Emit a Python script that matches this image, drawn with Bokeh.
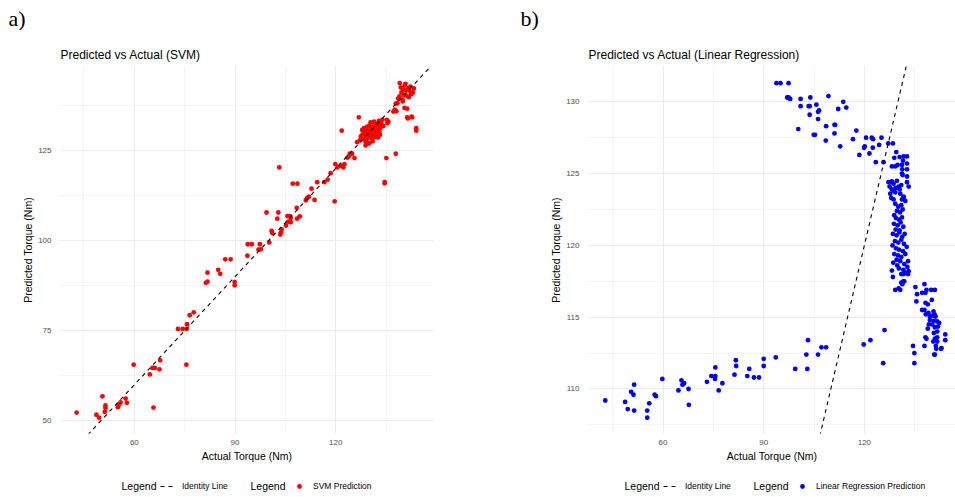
from bokeh.plotting import figure
from bokeh.layouts import row, column
from bokeh.models import FixedTicker, Legend, LegendItem, Label, Range1d
from bokeh.embed import file_html
from bokeh.resources import INLINE

# ---------------- data ----------------
# SVM panel: actual torque vs SVM predicted torque
svm_actual_low = [42.8, 48.7, 49.5, 50.5, 51.2, 51.4, 51.4, 55.1, 55.4, 55.9,
                  57.4, 57.8, 59.8, 64.6, 65.4, 66.1, 65.7, 67.5, 67.7, 73.0,
                  74.4, 75.6, 75.7, 75.5, 76.5, 77.7]
svm_pred_low = [52.3, 51.7, 50.9, 56.8, 52.5, 54.3, 53.6, 53.8, 54.5, 55.1,
                56.2, 55.0, 65.6, 62.9, 64.7, 64.7, 53.7, 64.3, 66.8, 75.5,
                75.5, 75.5, 76.8, 65.6, 79.3, 80.1]

svm_actual_mid = [81.3, 81.8, 81.8, 85.0, 85.6, 87.1, 88.7, 89.9, 89.9, 93.7,
                  93.8, 95.0, 97.0, 97.4, 97.7, 100.2, 100.9, 101.1, 103.5, 103.7,
                  103.9, 99.4, 102.6, 102.9, 105.2, 105.6, 106.4, 105.9, 106.6, 106.6,
                  108.4, 108.5, 109.3, 107.2, 108.6, 103.2, 111.1, 111.5, 112.0, 112.8,
                  113.7, 114.5, 116.6, 117.6, 118.5, 119.7, 119.9, 120.5, 121.5, 122.3,
                  122.6, 123.5, 124.2, 123.9, 124.9, 125.6]
svm_pred_mid = [88.3, 88.6, 91.1, 91.9, 90.8, 94.8, 94.8, 88.5, 87.6, 95.8,
                99.0, 99.0, 97.5, 99.0, 97.6, 99.5, 102.7, 102.1, 101.7, 102.3,
                103.1, 107.8, 106.1, 107.8, 104.2, 106.8, 106.8, 105.3, 105.1, 106.3,
                109.1, 106.1, 106.7, 115.8, 115.8, 120.3, 111.2, 111.8, 112.2, 114.4,
                111.3, 116.2, 116.2, 116.9, 118.7, 110.9, 121.2, 120.3, 120.8, 120.3,
                121.2, 123.0, 124.1, 123.4, 124.1, 122.9]

svm_actual_misc = [121.8, 126.9, 135.1, 137.9, 134.6, 134.6, 144.0, 144.0, 135.2, 135.4, 135.7]
svm_pred_misc = [130.5, 134.2, 122.9, 124.1, 116.2, 115.9, 131.2, 130.5, 133.5, 132.6, 133.0]

svm_actual_core = [127.5, 127.9, 128.0, 128.3, 128.4, 128.6, 128.9, 129.0, 129.1, 129.2,
                   129.4, 129.5, 129.7, 129.8, 130.0, 130.1, 130.2, 130.4, 130.5, 130.6,
                   130.8, 130.9, 131.0, 131.1, 131.3, 131.4, 131.5, 131.6, 131.8, 131.9,
                   132.0, 132.2, 132.3, 132.5, 132.6, 132.8, 132.9, 133.0, 133.2, 133.4,
                   133.6, 133.9, 134.2, 126.4, 127.2, 130.0, 128.9]
svm_pred_core = [128.9, 130.7, 129.5, 128.2, 131.2, 130.0, 126.4, 127.5, 129.0, 130.8,
                 131.6, 128.3, 129.7, 127.0, 130.4, 131.9, 128.9, 132.8, 129.8, 131.0,
                 128.4, 130.2, 127.6, 131.5, 129.3, 133.0, 130.6, 132.1, 128.8, 130.0,
                 131.2, 129.6, 132.5, 130.8, 128.6, 131.8, 133.2, 130.3, 129.4, 131.3,
                 132.4, 133.5, 131.8, 127.3, 127.8, 127.0, 127.5]

svm_actual_top = [137.2, 137.6, 137.9, 138.1, 138.4, 139.1, 139.4, 139.6, 139.9, 140.1,
                  140.3, 140.5, 140.6, 140.8, 140.9, 141.1, 141.3, 141.3, 141.5, 141.6,
                  141.8, 142.0, 142.3, 142.5, 142.8, 143.0, 143.3, 142.6, 139.0, 138.6,
                  140.0]
svm_pred_top = [135.8, 136.3, 138.0, 135.9, 138.1, 143.7, 142.5, 141.1, 139.1, 142.0,
                140.4, 136.8, 143.2, 143.5, 141.7, 140.2, 136.6, 134.2, 133.9, 142.3,
                139.8, 141.6, 142.7, 140.6, 134.2, 141.1, 142.2, 134.4, 140.0, 139.4,
                138.6]

# Linear regression panel
lr_actual_low = [42.8, 48.7, 49.5, 50.5, 51.2, 51.4, 51.4, 55.3, 55.3, 55.9,
                 57.5, 57.9, 59.8, 64.6, 65.5, 65.8, 66.3, 67.6, 67.7, 73.1,
                 74.4, 75.6, 75.6, 75.5, 76.6, 77.7, 81.3, 81.7, 81.8, 85.1,
                 85.7, 87.1, 88.6, 90.0, 90.0, 93.6, 99.4, 102.7, 103.0, 103.2,
                 106.2, 107.2, 108.6, 119.8, 121.8, 126.0, 125.6]
lr_pred_low = [109.2, 109.1, 108.6, 109.8, 109.6, 110.3, 108.5, 108.5, 108.0, 109.0,
               109.6, 109.5, 110.7, 109.9, 110.6, 110.3, 110.4, 110.0, 108.9, 110.5,
               110.9, 111.5, 110.9, 110.7, 109.9, 110.4, 111.0, 112.0, 111.6, 110.9,
               111.4, 110.8, 110.8, 112.1, 111.6, 112.2, 111.4, 112.4, 111.4, 113.4,
               112.4, 112.9, 112.9, 113.1, 113.4, 114.1, 111.8]

lr_actual_top = [93.8, 95.0, 97.4, 97.0, 97.4, 97.9, 101.0, 103.9, 109.3, 101.0,
                 103.4, 103.7, 105.7, 106.5, 106.2, 103.7, 106.2, 113.7, 112.2, 114.6,
                 100.3, 104.9, 105.3, 108.6, 111.1, 111.3, 111.1, 108.5, 112.8, 117.6,
                 116.6, 120.5, 122.2, 122.6, 125.1, 119.9, 120.1, 118.5, 121.5, 122.5,
                 124.4, 123.4, 125.7, 127.1, 128.5]
lr_pred_top = [131.3, 131.3, 131.3, 130.3, 130.3, 130.2, 130.2, 130.3, 130.4, 129.7,
               129.7, 129.7, 129.8, 129.4, 129.3, 129.1, 128.8, 130.0, 129.5, 129.6,
               128.1, 127.7, 127.7, 128.3, 128.4, 128.4, 127.8, 127.3, 126.9, 128.0,
               127.4, 127.5, 127.5, 127.4, 127.5, 126.8, 126.9, 126.3, 126.4, 126.8,
               127.0, 125.8, 125.8, 127.1, 127.1]

lr_actual_col = [129.5, 128.9, 130.5, 131.7, 132.7,
                 131.5, 132.7, 128.2, 129.2, 129.9, 131.2, 132.7, 131.3, 131.2, 131.4, 132.7,
                 127.2, 127.7, 128.2, 128.7, 129.7, 130.2, 127.5, 128.2, 128.7, 127.7, 129.2, 130.7,
                 131.7, 131.2, 128.7, 132.2, 131.7, 132.7, 133.2, 130.5, 129.3, 131.0, 128.0,
                 129.2, 130.1, 131.0, 129.7, 130.6, 131.4, 128.9,
                 129.4, 130.3, 131.2, 128.8, 129.9, 130.8, 131.6, 129.3, 130.5,
                 128.5, 129.6, 130.4, 131.3, 132.0, 129.1, 130.1, 131.0, 131.8, 128.4,
                 129.4, 130.3, 131.5, 132.6, 128.9, 130.0, 131.0, 132.2, 129.6, 130.7,
                 128.6, 129.8, 131.9, 133.0, 130.3, 131.6, 132.8, 128.2, 131.0, 131.7, 132.4, 133.2, 133.0,
                 128.5, 131.0, 131.9, 131.3, 131.6, 129.2, 130.2, 130.7]
lr_pred_col = [126.5, 126.1, 126.15, 126.2, 126.2,
               125.9, 125.7, 125.5, 125.5, 125.6, 125.6, 125.3, 125.3, 125.0, 124.9, 124.8,
               124.4, 124.4, 124.45, 124.3, 124.5, 124.1, 124.1, 123.9, 123.8, 123.6, 123.7, 123.6,
               123.4, 123.2, 123.2, 123.1, 123.3, 124.4, 124.1, 123.9, 124.0, 124.2, 123.3,
               122.9, 122.7, 122.8, 122.4, 122.3, 122.5, 122.1,
               121.9, 121.8, 121.95, 121.5, 121.4, 121.6, 121.3, 121.1, 121.05,
               120.8, 120.7, 120.9, 120.6, 120.8, 120.3, 120.2, 120.4, 120.1, 120.0,
               119.8, 119.7, 119.6, 119.9, 119.4, 119.3, 119.2, 119.4, 119.0, 118.9,
               118.8, 118.6, 118.7, 118.9, 118.4, 118.3, 118.5, 118.25, 118.0, 118.0, 118.1, 118.2, 118.0,
               117.8, 117.4, 117.5, 117.3, 117.5, 116.9, 117.0, 116.9]

lr_actual_right = [135.2, 137.9, 135.7, 138.2, 138.5, 139.9, 141.0, 137.2, 135.5, 138.2,
                   138.9, 140.1, 137.2, 137.9, 138.3, 139.1, 140.6, 140.9, 139.5, 140.2,
                   141.2, 139.5, 140.7, 141.7, 142.3, 139.2, 140.2, 138.9, 141.0, 141.9,
                   140.7, 141.7, 144.1, 144.1, 138.5, 141.0, 141.7, 140.5, 141.7, 141.3,
                   143.0, 141.4, 141.0, 137.9, 138.2, 142.8, 140.8, 134.5, 134.9, 134.9]
lr_pred_right = [117.1, 117.3, 116.6, 116.7, 116.9, 116.9, 116.9, 116.7, 116.1, 116.0,
                 115.9, 116.2, 115.5, 115.5, 115.2, 115.3, 115.4, 115.2, 115.05, 115.1,
                 115.05, 114.8, 114.75, 114.7, 114.6, 114.5, 114.5, 114.2, 114.3, 114.35,
                 113.9, 114.0, 113.8, 113.4, 113.5, 113.5, 113.6, 113.3, 113.3, 113.0,
                 112.85, 112.8, 112.4, 113.0, 113.6, 112.8, 112.4, 113.0, 112.5, 111.8]

svm_actual = svm_actual_low + svm_actual_mid + svm_actual_misc + svm_actual_core + svm_actual_top
svm_pred = svm_pred_low + svm_pred_mid + svm_pred_misc + svm_pred_core + svm_pred_top
lr_actual = lr_actual_low + lr_actual_top + lr_actual_col + lr_actual_right
lr_pred = lr_pred_low + lr_pred_top + lr_pred_col + lr_pred_right

x_ticks = [60, 90, 120]
x_minor = [45, 75, 105, 135]
svm_y_ticks = [50, 75, 100, 125]
svm_y_minor = [62.5, 87.5, 112.5, 137.5]
lr_y_ticks = [110, 115, 120, 125, 130]
lr_y_minor = [107.5, 112.5, 117.5, 122.5, 127.5]

# ---------------- styling ----------------
FONT = "Liberation Sans"
GRID = "#ebebeb"
W = 955
HEAD_H = 30
MAIN_H = 436
LEG_H = 31
DOT = 4.8
DASH = "4 4"
NAN = float("nan")


def blank_fig(width, height):
    f = figure(width=width, height=height, x_range=Range1d(0, width), y_range=Range1d(0, height),
               x_axis_type=None, y_axis_type=None, output_backend="svg",
               toolbar_location=None, min_border=0,
               min_border_left=0, min_border_right=0, min_border_top=0, min_border_bottom=0)
    f.outline_line_color = None
    f.xgrid.visible = False
    f.ygrid.visible = False
    f.border_fill_color = "white"
    f.background_fill_color = "white"
    return f


def scatter_panel(title, actual, pred, color, xr, yr, yt, ym, width, bl, br):
    p = figure(width=width, height=MAIN_H, x_range=Range1d(*xr), y_range=Range1d(*yr),
               output_backend="svg", toolbar_location=None, title=title,
               min_border_left=bl, min_border_right=br,
               min_border_top=66 - HEAD_H, min_border_bottom=33)
    p.outline_line_color = None
    p.background_fill_color = "white"
    p.border_fill_color = "white"
    p.title.text_font = FONT
    p.title.text_font_size = "12px"
    p.title.text_font_style = "normal"
    p.title.text_color = "black"
    p.title.align = "left"

    p.xaxis.ticker = FixedTicker(ticks=x_ticks, minor_ticks=x_minor)
    p.yaxis.ticker = FixedTicker(ticks=yt, minor_ticks=ym)
    for ax in (p.xaxis, p.yaxis):
        ax.axis_line_color = None
        ax.major_tick_line_color = None
        ax.minor_tick_line_color = None
        ax.major_tick_out = 0
        ax.major_tick_in = 0
        ax.minor_tick_out = 0
        ax.minor_tick_in = 0
        ax.major_label_text_font = FONT
        ax.major_label_text_font_size = "8px"
        ax.major_label_text_color = "#4d4d4d"
        ax.axis_label_text_font = FONT
        ax.axis_label_text_font_size = "10.5px"
        ax.axis_label_text_font_style = "normal"
        ax.axis_label_text_color = "black"
    p.xaxis.axis_label = "Actual Torque (Nm)"
    p.yaxis.axis_label = "Predicted Torque (Nm)"
    p.xaxis.major_label_standoff = 6
    p.yaxis.major_label_standoff = 9
    p.xaxis.axis_label_standoff = 2
    p.yaxis.axis_label_standoff = 1

    for g in (p.xgrid, p.ygrid):
        g.grid_line_color = GRID
        g.grid_line_width = 1.1
        g.minor_grid_line_color = GRID
        g.minor_grid_line_width = 0.55

    p.scatter(actual, pred, size=DOT, fill_color=color, line_color=None)
    lo = min(xr[0], yr[0])
    hi = max(xr[1], yr[1])
    p.line([lo, hi], [lo, hi], line_color="black", line_width=1.1, line_dash=DASH)
    return p


p1 = scatter_panel("Predicted vs Actual (SVM)", svm_actual, svm_pred, "#ff0000",
                   (38.0, 149.15), (46.5, 148.3), svm_y_ticks, svm_y_minor, 480, 60, 47)
p2 = scatter_panel("Predicted vs Actual (Linear Regression)", lr_actual, lr_pred, "#0000ff",
                   (37.8, 147.15), (106.9, 132.46), lr_y_ticks, lr_y_minor, 475, 108, 0)

# ---- header strip with the panel tags ----
head = blank_fig(W, HEAD_H)
for tag, tx in (("a)", 8), ("b)", 520)):
    head.add_layout(Label(x=tx, y=12.5, x_units="screen", y_units="screen", text=tag,
                          text_font="Liberation Serif", text_font_size="22px",
                          text_baseline="middle", text_color="black"))

# ---- legend strip (each panel has two ggplot guides titled "Legend") ----
leg = blank_fig(W, LEG_H)
common = dict(orientation="horizontal", padding=0, margin=0, spacing=0,
              border_line_color=None, background_fill_alpha=0,
              label_height=20, label_text_font=FONT,
              label_text_font_size="8.5px", label_text_color="black")
for x0, color, name in ((121, "#ff0000", "SVM Prediction"),
                        (624, "#0000ff", "Linear Regression Prediction")):
    key_line = leg.line([NAN], [NAN], line_color="black", line_width=1.1, line_dash=DASH)
    key_pts = leg.scatter([NAN], [NAN], size=DOT, fill_color=color, line_color=None)
    leg.add_layout(Legend(items=[LegendItem(label="Identity Line", renderers=[key_line])],
                          location=(x0 + 39, 1.5), glyph_width=16, glyph_height=20,
                          label_standoff=6, **common))
    leg.add_layout(Legend(items=[LegendItem(label=name, renderers=[key_pts])],
                          location=(x0 + 172, 1.5), glyph_width=12, glyph_height=12,
                          label_standoff=8, **common))
    for dx in (0, 129):
        leg.add_layout(Label(x=x0 + dx, y=12, x_units="screen", y_units="screen",
                             text="Legend", text_font=FONT, text_font_size="10.5px",
                             text_baseline="middle", text_color="black"))

layout = column(head, row(p1, p2), leg)
open("out.html", "w").write(file_html(layout, INLINE))
